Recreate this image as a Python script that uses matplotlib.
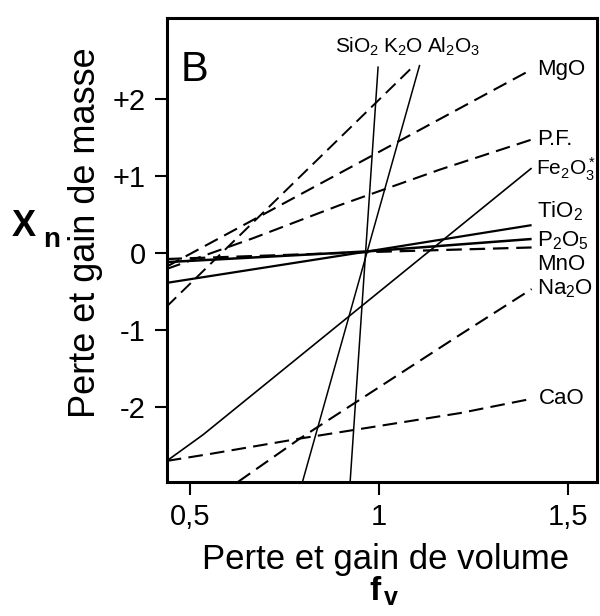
import matplotlib
matplotlib.use("Agg")
import matplotlib.pyplot as plt

plt.rcParams['font.family'] = ['Liberation Sans', 'DejaVu Sans']
plt.rcParams['mathtext.fontset'] = 'custom'
plt.rcParams['mathtext.rm'] = 'Liberation Sans'
plt.rcParams['mathtext.it'] = 'Liberation Sans:italic'
plt.rcParams['mathtext.bf'] = 'Liberation Sans:bold'

# lines: fv (x) and Xn (y) points for each oxide
sio2_x = [0.924, 0.998]
sio2_y = [-2.97, 2.42]
al2o3_x = [0.798, 1.108]
al2o3_y = [-2.97, 2.44]
k2o_x = [0.438, 1.095]
k2o_y = [-0.70, 2.44]
mgo_x = [0.438, 1.404]
mgo_y = [-0.18, 2.38]
pf_x = [0.438, 0.667, 0.897, 1.161, 1.404]
pf_y = [-0.21, 0.19, 0.62, 1.08, 1.47]
fe2o3_x = [0.439, 0.535, 1.404]
fe2o3_y = [-2.70, -2.36, 1.10]
tio2_x = [0.438, 0.972, 1.404]
tio2_y = [-0.39, 0.02, 0.36]
p2o5_x = [0.438, 0.972, 1.404]
p2o5_y = [-0.12, 0.02, 0.18]
mno_x = [0.438, 0.972, 1.404]
mno_y = [-0.08, 0.01, 0.07]
na2o_x = [0.628, 0.791, 1.206, 1.404]
na2o_y = [-2.97, -2.41, -1.09, -0.47]
cao_x = [0.439, 0.553, 0.791, 1.214, 1.408]
cao_y = [-2.70, -2.61, -2.41, -2.08, -1.89]

x_ticks = [0.5, 1.0, 1.5]
x_ticklabels = ['0,5', '1', '1,5']
y_ticks = [2, 1, 0, -1, -2]
y_ticklabels = ['+2', '+1', '0', '-1', '-2']

fig = plt.figure(figsize=(6, 6.16), dpi=100)
ax = fig.add_axes([0.278, 0.2175, 0.717, 0.7535])

dash = (7, 3.5)
# (x, y, dashed, linewidth)
series = {
    'SiO2': (sio2_x, sio2_y, False, 1.1),
    'Al2O3': (al2o3_x, al2o3_y, False, 1.1),
    'K2O': (k2o_x, k2o_y, True, 1.4),
    'MgO': (mgo_x, mgo_y, True, 1.5),
    'PF': (pf_x, pf_y, True, 1.5),
    'Fe2O3': (fe2o3_x, fe2o3_y, False, 1.2),
    'TiO2': (tio2_x, tio2_y, False, 1.6),
    'P2O5': (p2o5_x, p2o5_y, False, 1.8),
    'MnO': (mno_x, mno_y, True, 1.6),
    'Na2O': (na2o_x, na2o_y, True, 1.5),
    'CaO': (cao_x, cao_y, True, 1.5),
}
for name, (xs, ys, dashed, lw) in series.items():
    line, = ax.plot(xs, ys, color='black', lw=lw, solid_capstyle='butt')
    if dashed:
        line.set_dashes(dash)

# labels at the right-hand ends of the lines
right_labels = {
    'MgO': ('MgO', (4, 0), 16),
    'PF': ('P.F.', (4, 0), 16),
    'Fe2O3': (r'Fe$_2$O$_3^*$', (3, -1), 15),
    'TiO2': (r'TiO$_2$', (4, 10), 16),
    'P2O5': (r'P$_2$O$_5$', (4, -1), 16),
    'MnO': ('MnO', (4, -12), 16),
    'Na2O': (r'Na$_2$O', (4, 0), 16),
    'CaO': ('CaO', (4, 0), 16),
}
for name, (txt, off, fs) in right_labels.items():
    xs, ys = series[name][0], series[name][1]
    ax.annotate(txt, xy=(xs[-1], ys[-1]), xytext=off, textcoords='offset points',
                ha='left', va='center', fontsize=fs)

# labels over the steep lines
ax.text(0.942, 2.67, r'SiO$_2$', ha='center', va='center', fontsize=15)
ax.text(1.063, 2.67, r'K$_2$O', ha='center', va='center', fontsize=15)
ax.text(1.198, 2.67, r'Al$_2$O$_3$', ha='center', va='center', fontsize=15)

ax.text(0.065, 0.888, 'B', transform=ax.transAxes, ha='center', va='center', fontsize=30)

ax.set_xlim(0.439, 1.577)
ax.set_ylim(-2.974, 3.05)
ax.set_xticks(x_ticks)
ax.set_xticklabels(x_ticklabels)
ax.set_yticks(y_ticks)
ax.set_yticklabels(y_ticklabels)
ax.tick_params(direction='out', length=9, width=1.5, labelsize=21, pad=6)
for s in ax.spines.values():
    s.set_linewidth(2.2)

fig.text(0.142, 0.623, 'Perte et gain de masse', rotation=90, ha='center', va='center', fontsize=26)
fig.text(0.642, 0.091, 'Perte et gain de volume', ha='center', va='center', fontsize=25)
fig.text(0.040, 0.633, 'X', ha='center', va='center', fontsize=26, fontweight='bold')
fig.text(0.086, 0.611, 'n', ha='center', va='center', fontsize=20, fontweight='bold')
fig.text(0.625, 0.040, 'f', ha='center', va='center', fontsize=24, fontweight='bold')
fig.text(0.651, 0.030, 'v', ha='center', va='center', fontsize=18, fontweight='bold')

fig.savefig('out.png', dpi=100)
